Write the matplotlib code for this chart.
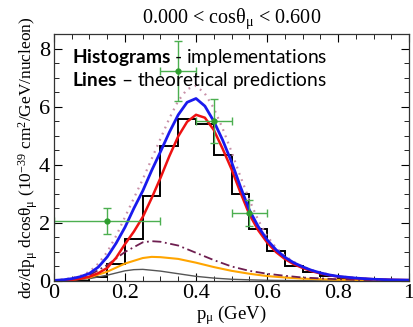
import numpy as np
import matplotlib
matplotlib.use("Agg")
import matplotlib.pyplot as plt
from matplotlib.ticker import MultipleLocator

plt.rcParams['font.family'] = ['Liberation Serif', 'DejaVu Serif']
plt.rcParams['mathtext.fontset'] = 'custom'
plt.rcParams['mathtext.rm'] = 'Liberation Serif'
plt.rcParams['mathtext.it'] = 'Liberation Serif:italic'
plt.rcParams['mathtext.bf'] = 'Lato:bold'

# histogram (implementation), bins of 0.05 GeV
hist_edges = [round(0.05 * i, 2) for i in range(21)]
hist_vals = [0, 0, 0.15, 0.57, 1.46, 2.92, 4.63, 5.56, 5.41, 4.33, 3.0,
             1.80, 1.03, 0.51, 0.31, 0.17, 0.06, 0.03, 0, 0]

# data points
data_x = [0.15, 0.35, 0.45, 0.55]
data_y = [2.08, 7.24, 5.50, 2.35]
data_xerr = [[0.15, 0.05, 0.05, 0.05], [0.15, 0.05, 0.05, 0.05]]
data_yerr = [[0.45, 1.05, 0.74, 0.47], [0.44, 1.02, 0.75, 0.45]]

# theoretical curves
x_main = [0, 0.025, 0.05, 0.075, 0.1, 0.125, 0.15, 0.175, 0.2, 0.225, 0.25, 0.275,
          0.3, 0.325, 0.35, 0.375, 0.4, 0.425, 0.45, 0.475, 0.5, 0.525, 0.55,
          0.575, 0.6, 0.625, 0.65, 0.675, 0.7, 0.725, 0.75, 0.775, 0.8, 0.85,
          0.9, 0.95, 1.0]
blue_y = [0.02, 0.04, 0.08, 0.15, 0.26, 0.48, 0.83, 1.3, 1.85, 2.5, 3.1, 3.8,
          4.45, 5.12, 5.72, 6.15, 6.28, 6.02, 5.5, 4.85, 4.1, 3.25, 2.45,
          1.88, 1.42, 1.08, 0.82, 0.63, 0.49, 0.37, 0.28, 0.21, 0.16, 0.1,
          0.06, 0.04, 0.03]
red_y = [0.01, 0.02, 0.04, 0.08, 0.15, 0.27, 0.45, 0.8, 1.27, 1.7, 2.2, 2.85,
         3.55, 4.3, 4.98, 5.48, 5.72, 5.62, 5.2, 4.55, 3.85, 3.05, 2.3,
         1.75, 1.33, 1.0, 0.76, 0.58, 0.45, 0.34, 0.26, 0.2, 0.15, 0.09,
         0.06, 0.04, 0.03]
dot_y = [0.02, 0.05, 0.1, 0.18, 0.32, 0.6, 1.0, 1.55, 2.2, 2.85, 3.5, 4.2,
         4.9, 5.6, 6.2, 6.6, 6.72, 6.45, 5.95, 5.25, 4.45, 3.6, 2.8,
         2.1, 1.55, 1.15, 0.87, 0.66, 0.5, 0.38, 0.3, 0.22, 0.17, 0.1,
         0.06, 0.04, 0.02]

x_small = [0, 0.05, 0.1, 0.15, 0.2, 0.25, 0.275, 0.3, 0.35, 0.4, 0.45, 0.5,
           0.55, 0.6, 0.65, 0.7, 0.75, 0.8, 0.85, 0.9, 1.0]
dashdot_y = [0.02, 0.07, 0.2, 0.55, 1.0, 1.33, 1.37, 1.35, 1.22, 0.97, 0.72, 0.5,
             0.35, 0.25, 0.18, 0.12, 0.09, 0.06, 0.04, 0.03, 0.02]
orange_y = [0.01, 0.04, 0.12, 0.32, 0.6, 0.79, 0.83, 0.82, 0.76, 0.63, 0.48, 0.35,
            0.25, 0.17, 0.12, 0.08, 0.06, 0.04, 0.03, 0.02, 0.01]
x_gray = [0, 0.05, 0.1, 0.15, 0.2, 0.225, 0.25, 0.3, 0.35, 0.4, 0.45, 0.5,
          0.55, 0.6, 0.7, 0.8, 1.0]
gray_y = [0.01, 0.03, 0.08, 0.2, 0.35, 0.39, 0.4, 0.34, 0.25, 0.16, 0.1, 0.06,
          0.04, 0.025, 0.01, 0.005, 0.0]

xticks = [0, 0.2, 0.4, 0.6, 0.8, 1]
xticklabels = ['0', '0.2', '0.4', '0.6', '0.8', '1']
yticks = [0, 2, 4, 6, 8]
yticklabels = ['0', '2', '4', '6', '8']

fig = plt.figure(figsize=(4.14, 3.27), dpi=100)
ax = fig.add_axes([0.1304, 0.1407, 0.8576, 0.7553])

ax.plot(x_gray, gray_y, color='#555555', lw=1.0)
ax.plot(x_small, orange_y, color='#FFA500', lw=1.5)
ax.plot(x_small, dashdot_y, color='#6E1E50', lw=1.3, linestyle=(0, (5, 2, 1, 2)))
ax.plot(x_main, dot_y, color='#C890A8', lw=1.6, linestyle=(0, (0.8, 2.2)))
ax.plot(x_main, red_y, color='#EE1111', lw=1.8)
ax.plot(x_main, blue_y, color='#1a1aee', lw=2.0)
ax.stairs(hist_vals, hist_edges, color='black', lw=1.4)
ax.errorbar(data_x, data_y, xerr=data_xerr, yerr=data_yerr, fmt='o', ms=3.5,
            color='#2E9E2E', ecolor='#4CAF50', elinewidth=1.0, capsize=3, capthick=1.0)

ax.set_xlim(0, 1)
ax.set_ylim(0, 8.5)
ax.set_xticks(xticks)
ax.set_xticklabels(xticklabels, fontfamily='Liberation Serif')
ax.set_yticks(yticks)
ax.set_yticklabels(yticklabels, fontfamily='Liberation Serif')
ax.xaxis.set_minor_locator(MultipleLocator(0.05))
ax.yaxis.set_minor_locator(MultipleLocator(0.5))
ax.tick_params(which='both', direction='in', top=True, right=True, labelsize=16)
ax.tick_params(axis='x', which='major', pad=2)
ax.tick_params(axis='y', which='major', pad=3)
ax.tick_params(which='major', length=6, width=0.8)
ax.tick_params(which='minor', length=3.5, width=0.6)
for s in ax.spines.values():
    s.set_color('#333333')
    s.set_linewidth(0.9)

ax.set_title(r'0.000 < cosθ$_\mathrm{\mu}$ < 0.600', fontsize=14.5, pad=8)
ax.set_xlabel(r'p$_\mathrm{\mu}$ (GeV)', fontsize=13.5, labelpad=0)
ax.set_ylabel(r'dσ/dp$_\mathrm{\mu}$ dcosθ$_\mathrm{\mu}$ (10$^\mathrm{-39}$ cm$^\mathrm{2}$/GeV/nucleon)',
              fontsize=12.5, labelpad=-1)

ax.text(0.052, 0.905, r'$\bf{Histograms}$ - implementations', transform=ax.transAxes,
        fontsize=13.8, family='Lato', ha='left', va='center')
ax.text(0.052, 0.81, r'$\bf{Lines}$ – theoretical predictions', transform=ax.transAxes,
        fontsize=13.8, family='Lato', ha='left', va='center')

fig.savefig('out.png', dpi=100)
